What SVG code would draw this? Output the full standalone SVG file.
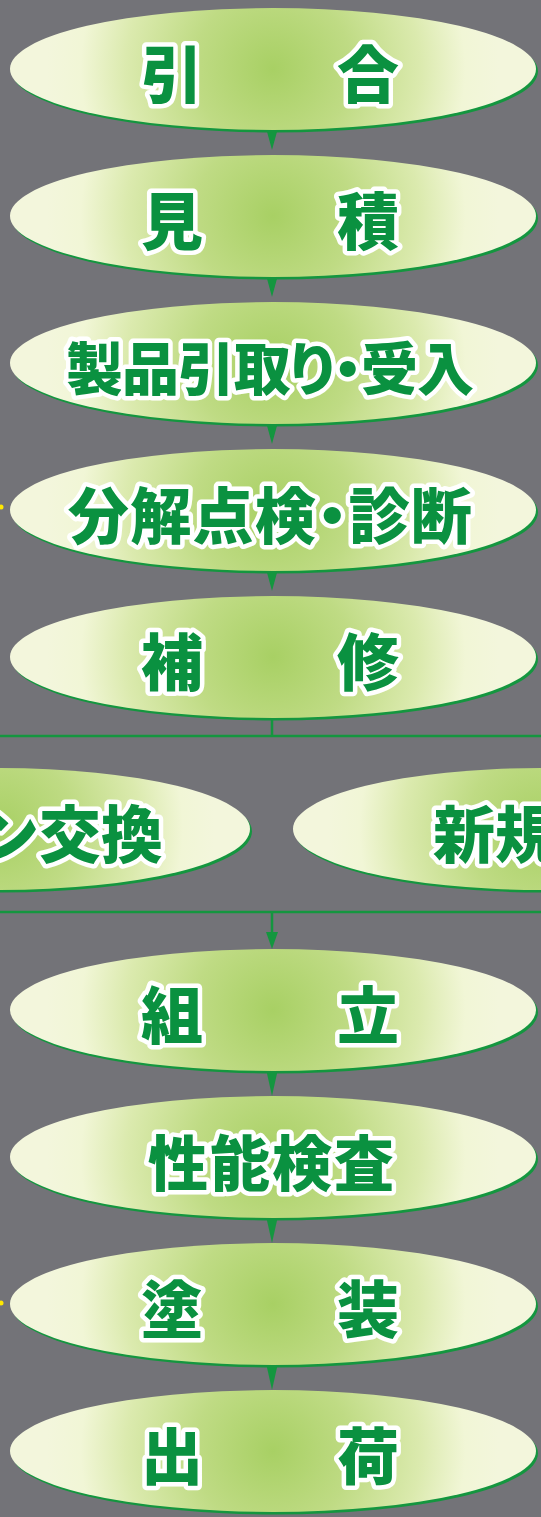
<svg xmlns="http://www.w3.org/2000/svg" width="541" height="1517" viewBox="0 0 541 1517">
<style>
.sh{fill:#14963f}
.el{fill:url(#g)}
.t{font-family:"Noto Sans CJK JP","Noto Sans CJK SC",sans-serif;font-weight:900;fill:#0a9140;stroke:#fff;stroke-width:9;stroke-linejoin:round;paint-order:stroke;dominant-baseline:central}
.p{font-feature-settings:"palt"}
.ln{stroke:#14963f;stroke-width:2.5;fill:none}
.ar{fill:#14963f}
</style>
<defs>
<radialGradient id="g" cx="0.5" cy="0.5" r="0.43" gradientTransform="translate(0.5,0.5) scale(1,4.3) translate(-0.5,-0.5)">
<stop offset="0" stop-color="#a8d064"/>
<stop offset="0.35" stop-color="#bfdb84"/>
<stop offset="0.65" stop-color="#dbeaae"/>
<stop offset="0.85" stop-color="#f1f6d6"/>
<stop offset="1" stop-color="#f3f6dc"/>
</radialGradient>
</defs>
<rect width="541" height="1517" fill="#737378"/>
<circle cx="1" cy="507" r="2.5" fill="#ffe800"/>
<circle cx="1" cy="1303" r="2.5" fill="#ffe800"/>
<g id="connectors">
<polygon class="ar" points="266,128 278,128 272,150"/>
<polygon class="ar" points="266,275 278,275 272,297"/>
<polygon class="ar" points="266,422 278,422 272,444"/>
<polygon class="ar" points="266,569 278,569 272,591"/>
<line class="ln" x1="272" y1="714" x2="272" y2="736"/>
<line class="ln" x1="0" y1="736" x2="541" y2="736"/>
<line class="ln" x1="0" y1="912" x2="541" y2="912"/>
<line class="ln" x1="272" y1="912" x2="272" y2="936"/>
<polygon class="ar" points="266,932 278,932 272,949"/>
<polygon class="ar" points="266,1069 278,1069 272,1096"/>
<polygon class="ar" points="266,1216 278,1216 272,1243"/>
<polygon class="ar" points="266,1363 278,1363 272,1390"/>
</g>
<g id="n1"><ellipse class="sh" cx="275" cy="71.5" rx="263" ry="61"/><ellipse class="el" cx="273" cy="69" rx="263" ry="61"/><text class="t" font-size="62" text-anchor="middle"><tspan x="172" y="71">引</tspan><tspan x="368" y="71">合</tspan></text></g>
<g id="n2"><ellipse class="sh" cx="275" cy="218.5" rx="263" ry="61"/><ellipse class="el" cx="273" cy="216" rx="263" ry="61"/><text class="t" font-size="62" text-anchor="middle"><tspan x="172" y="218">見</tspan><tspan x="368" y="218">積</tspan></text></g>
<g id="n3"><ellipse class="sh" cx="275" cy="365.5" rx="263" ry="61"/><ellipse class="el" cx="273" cy="363" rx="263" ry="61"/><text class="t p" font-size="57" text-anchor="middle" x="270" y="365" textLength="408" lengthAdjust="spacing">製品引取り・受入</text></g>
<g id="n4"><ellipse class="sh" cx="275" cy="512.5" rx="263" ry="61"/><ellipse class="el" cx="273" cy="510" rx="263" ry="61"/><text class="t p" font-size="61" text-anchor="middle" x="270" y="512" textLength="404" lengthAdjust="spacing">分解点検・診断</text></g>
<g id="n5"><ellipse class="sh" cx="275" cy="659.5" rx="263" ry="61"/><ellipse class="el" cx="273" cy="657" rx="263" ry="61"/><text class="t" font-size="62" text-anchor="middle"><tspan x="172" y="659">補</tspan><tspan x="368" y="659">修</tspan></text></g>
<g id="n6"><ellipse class="sh" cx="2" cy="831.5" rx="250" ry="61"/><ellipse class="el" cx="0" cy="829" rx="250" ry="61"/><text class="t" font-size="62" text-anchor="end" x="163" y="831">ン交換</text></g>
<g id="n7"><ellipse class="sh" cx="543" cy="831.5" rx="248" ry="61"/><ellipse class="el" cx="541" cy="829" rx="248" ry="61"/><text class="t" font-size="62" x="433" y="831">新規</text></g>
<g id="n8"><ellipse class="sh" cx="275" cy="1012.5" rx="263" ry="61"/><ellipse class="el" cx="273" cy="1010" rx="263" ry="61"/><text class="t" font-size="62" text-anchor="middle"><tspan x="172" y="1012">組</tspan><tspan x="368" y="1012">立</tspan></text></g>
<g id="n9"><ellipse class="sh" cx="275" cy="1159.5" rx="263" ry="61"/><ellipse class="el" cx="273" cy="1157" rx="263" ry="61"/><text class="t" font-size="60" letter-spacing="2" text-anchor="middle" x="272" y="1159">性能検査</text></g>
<g id="n10"><ellipse class="sh" cx="275" cy="1306.5" rx="263" ry="61"/><ellipse class="el" cx="273" cy="1304" rx="263" ry="61"/><text class="t" font-size="62" text-anchor="middle"><tspan x="172" y="1306">塗</tspan><tspan x="368" y="1306">装</tspan></text></g>
<g id="n11"><ellipse class="sh" cx="275" cy="1453.5" rx="263" ry="61"/><ellipse class="el" cx="273" cy="1451" rx="263" ry="61"/><text class="t" font-size="62" text-anchor="middle"><tspan x="172" y="1453">出</tspan><tspan x="368" y="1453">荷</tspan></text></g>
</svg>
